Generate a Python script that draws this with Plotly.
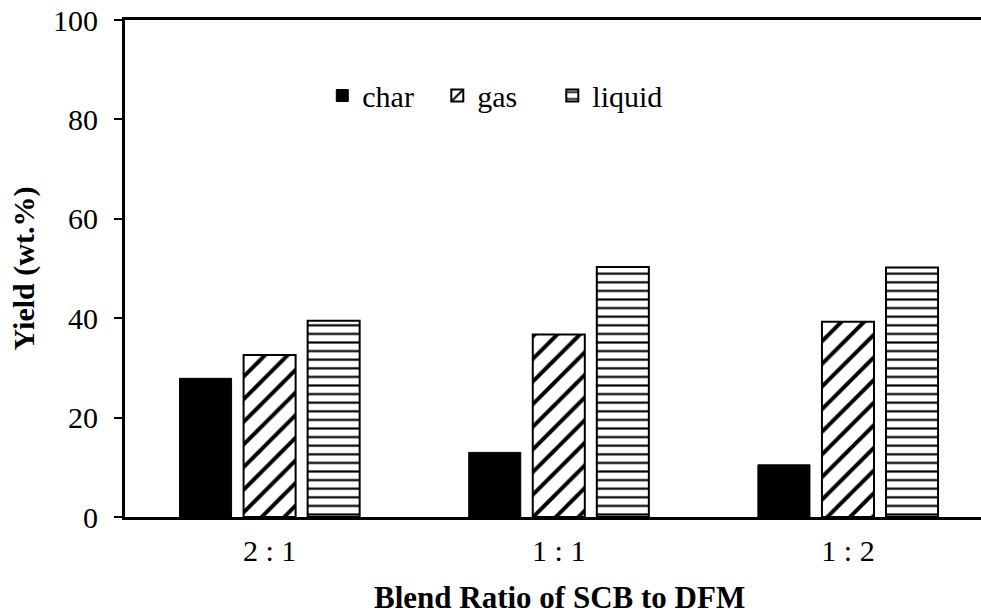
import plotly.graph_objects as go

categories = ["2 : 1", "1 : 1", "1 : 2"]
char_vals = [27.9, 13.0, 10.5]
gas_vals = [32.6, 36.7, 39.3]
liquid_vals = [39.5, 50.3, 50.2]
y_ticks = [0, 20, 40, 60, 80, 100]

FONT = "Liberation Serif"

fig = go.Figure()
fig.add_trace(go.Bar(
    x=categories, y=char_vals, name="char",
    marker=dict(color="black", line=dict(color="black", width=1)),
))
fig.add_trace(go.Bar(
    x=categories, y=gas_vals, name="gas",
    marker=dict(color="white", line=dict(color="black", width=2),
                pattern=dict(shape="/", fgcolor="black", fgopacity=1, size=16,
                             solidity=0.25, fillmode="overlay")),
))
fig.add_trace(go.Bar(
    x=categories, y=liquid_vals, name="liquid",
    marker=dict(color="white", line=dict(color="black", width=2),
                pattern=dict(shape="-", fgcolor="black", fgopacity=1, size=8.6,
                             solidity=0.25, fillmode="overlay")),
))

fig.update_layout(
    width=981, height=614,
    margin=dict(l=125, r=0, t=20, b=97),
    paper_bgcolor="white", plot_bgcolor="white",
    font=dict(family=FONT, size=30, color="black"),
    barmode="group", bargap=0.3356, bargroupgap=0.1875,
    showlegend=True,
    legend=dict(orientation="h", x=0.432, xanchor="center", y=0.848, yanchor="middle",
                font=dict(family=FONT, size=30, color="black"),
                entrywidth=70, entrywidthmode="pixels",
                bgcolor="rgba(0,0,0,0)", traceorder="normal"),
    xaxis=dict(
        type="category", range=[-0.5, 2.46],
        showline=True, linecolor="black", linewidth=3, mirror=True,
        ticks="", showgrid=False, zeroline=False,
        tickfont=dict(family=FONT, size=30), ticklabelstandoff=5,
    ),
    yaxis=dict(
        range=[0, 100], tickvals=y_ticks,
        showline=True, linecolor="black", linewidth=3,
        ticks="outside", ticklen=8, tickwidth=2, tickcolor="black",
        showgrid=False, zeroline=False,
        tickfont=dict(family=FONT, size=30), ticklabelstandoff=10,
    ),
    annotations=[
        dict(text="<b>Blend Ratio of SCB to DFM</b>", xref="paper", yref="paper",
             x=0.508, y=-0.1617, xanchor="center", yanchor="middle", showarrow=False,
             font=dict(family=FONT, size=31, color="black")),
        dict(text="<b>Yield (wt.%)</b>", xref="paper", yref="paper",
             x=-0.118, y=0.5, xanchor="center", yanchor="middle", showarrow=False,
             textangle=-90, font=dict(family=FONT, size=30, color="black")),
    ],
)

fig.write_html("out.html", config={"displayModeBar": False},
               post_script="document.body.style.margin='0px';")
